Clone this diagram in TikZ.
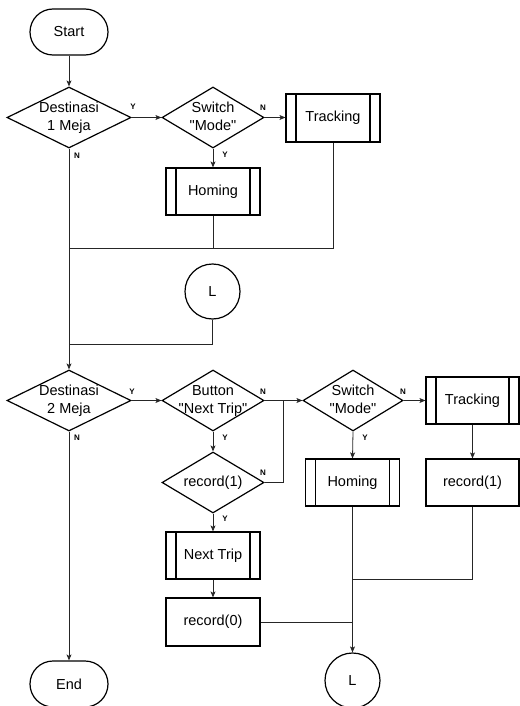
\documentclass[tikz,border=0pt]{standalone}
\usepackage{fontspec}
% plain family without TeX ligature mapping, so " stays a straight quote
\newfontfamily\chartfont{Liberation Sans}
\usetikzlibrary{shapes.geometric,arrows.meta}
% zero-width centred text block, so decision shapes keep their own size
\newcommand{\ctrtext}[1]{\makebox[0pt]{\begin{tabular}{@{}c@{}}#1\end{tabular}}}
\begin{document}
\begin{tikzpicture}[x=1pt,y=-1pt,
  font=\chartfont\fontsize{14.5}{18}\selectfont,
  base/.style={draw=black, line width=1.2pt, fill=white, inner sep=0pt},
  terminal/.style={base, rectangle, rounded corners=23pt, minimum width=78pt, minimum height=46pt},
  decision/.style={base, diamond, minimum width=#1, minimum height=61pt},
  procbox/.style={base, rectangle, minimum width=94pt, minimum height=47pt},
  subproc/.style={procbox, path picture={
      \draw[line width=1.2pt]
        ([xshift=10pt]path picture bounding box.north west) -- ([xshift=10pt]path picture bounding box.south west)
        ([xshift=-10pt]path picture bounding box.north east) -- ([xshift=-10pt]path picture bounding box.south east);}},
  connector/.style={base, circle, minimum size=55pt},
  flow/.style={draw=black!85, line width=0.8pt},
  arr/.style={flow, -{Stealth[length=6pt,width=5pt,inset=1.5pt]}},
  yn/.style={font=\chartfont\fontsize{8}{9}\selectfont\bfseries, inner sep=0pt},
]
\useasboundingbox (0,0) rectangle (519,706);

% ---- first destination
\node[terminal] (start) at (69,32) {Start};
\node[decision=124pt] (d1) at (69,117.5) {\ctrtext{Destinasi\\1 Meja}};
\node[decision=102pt] (sw1) at (213,117.5) {\ctrtext{Switch\\"Mode"}};
\node[subproc, minimum height=48pt] (trk1) at (333,118) {Tracking};
\node[subproc] (hom1) at (213,191.5) {Homing};
\node[connector] (L1) at (212.5,291.5) {L};

% ---- second destination
\node[decision=124pt] (d2) at (69,400.5) {\ctrtext{Destinasi\\2 Meja}};
\node[decision=102pt] (btn) at (213,400.5) {\ctrtext{Button\\"Next Trip"}};
\node[decision=102pt] (rec1d) at (213,482.5) {\makebox[0pt]{record(1)}};
\node[subproc] (next) at (213,555.5) {Next Trip};
\node[procbox, minimum height=48pt] (rec0) at (213,622) {record(0)};
\node[decision=100pt] (sw2) at (353,400.5) {\ctrtext{Switch\\"Mode"}};
\node[subproc, minimum width=93pt] (trk2) at (472.5,400.5) {Tracking};
\node[subproc] (hom2) at (352.5,482.5) {Homing};
\node[procbox, minimum width=93pt] (rec1b) at (472.5,482.5) {record(1)};
\node[connector] (L2) at (352.5,680.5) {L};
\node[terminal] (end) at (69,684) {End};

% ---- junction points
\coordinate (m1) at (69,248);
\coordinate (m2) at (69,344);
\coordinate (jr) at (283,400.5);
\coordinate (m3) at (352.5,579);

% ---- connectors
\draw[arr] (start) -- (d1);
\draw[arr] (d1.east) -- (sw1.west);
\draw[arr] (sw1.east) -- (sw1.east -| trk1.west);
\draw[arr] (sw1.south) -- (hom1.north);
\draw[flow] (hom1.south) -- (hom1.south |- m1);
\draw[flow] (trk1.south) |- (m1);
\draw[flow] (L1.south) |- (m2);
\draw[arr] (d1.south) -- (d2.north);

\draw[arr] (d2.east) -- (btn.west);
\draw[arr] (btn.east) -- (sw2.west);
\draw[flow] (rec1d.east) -| (jr);
\draw[arr] (btn.south) -- (rec1d.north);
\draw[arr] (rec1d.south) -- (next.north);
\draw[arr] (next.south) -- (rec0.north);
\draw[flow] (rec0.east) -- (rec0.east -| L2.north);
\draw[arr] (sw2.east) -- (trk2.west);
\draw[arr] (sw2.south) -- (hom2.north);
\draw[arr] (trk2.south) -- (rec1b.north);
\draw[arr] (hom2.south) -- (L2.north);
\draw[flow] (rec1b.south) |- (m3);
\draw[arr] (d2.south) -- (end.north);

% ---- branch labels
\node[yn] (y1) at (133,107) {Y};
\node[yn] (n1) at (77,156) {N};
\node[yn] (n2) at (263,108) {N};
\node[yn] (y2) at (225,155) {Y};
\node[yn] (y3) at (132,392) {Y};
\node[yn] (n3) at (77,438) {N};
\node[yn] (n4) at (263,392) {N};
\node[yn] (y4) at (225,438) {Y};
\node[yn] (n5) at (263,473) {N};
\node[yn] (y5) at (225,519) {Y};
\node[yn] (n6) at (403,392) {N};
\node[yn] (y6) at (365,438) {Y};
\end{tikzpicture}
\end{document}
